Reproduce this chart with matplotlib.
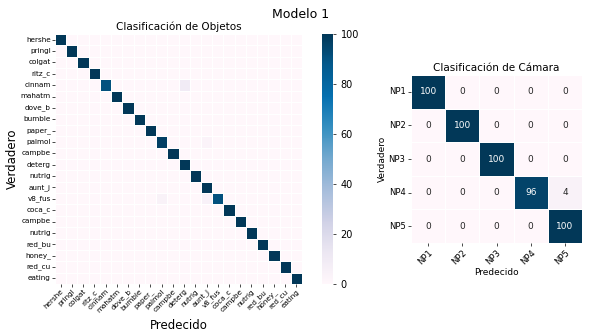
import numpy as np
import matplotlib
matplotlib.use('Agg')
import matplotlib.pyplot as plt
import seaborn as sns

# objetos (22 clases)
objetos = ['hershe', 'pringl', 'colgat', 'ritz_c', 'cinnam', 'mahatm', 'dove_b',
           'bumble', 'paper_', 'palmol', 'campbe', 'deterg', 'nutrig', 'aunt_j',
           'v8_fus', 'coca_c', 'campbe', 'nutrig', 'red_bu', 'honey_', 'red_cu',
           'eating']
diag_objetos = [100, 100, 100, 100, 91, 100, 100, 100, 100, 97, 100, 100, 100,
                100, 91, 100, 100, 100, 100, 100, 100, 100]
# (fila, columna, valor) fuera de la diagonal
fuera_objetos = [(4, 11, 9), (9, 13, 3), (14, 9, 4), (14, 13, 5)]

# camaras
camaras = ['NP1', 'NP2', 'NP3', 'NP4', 'NP5']
mat_camaras = [[100, 0, 0, 0, 0],
               [0, 100, 0, 0, 0],
               [0, 0, 100, 0, 0],
               [0, 0, 0, 96, 4],
               [0, 0, 0, 0, 100]]

cm_obj = np.diag(diag_objetos).astype(float)
for r, c, v in fuera_objetos:
    cm_obj[r, c] = v
cm_cam = np.array(mat_camaras)

fig = plt.figure(figsize=(5.91, 3.31), dpi=100)
W, H = 591, 331

def box(x0, y0, x1, y1):
    return [x0 / W, 1 - y1 / H, (x1 - x0) / W, (y1 - y0) / H]

ax1 = fig.add_axes(box(55, 34, 302, 284))
cax = fig.add_axes(box(322, 34, 333, 284))
ax2 = fig.add_axes(box(411, 75, 582, 243))

sns.heatmap(cm_obj, ax=ax1, cbar_ax=cax, cmap='PuBu', vmin=0, vmax=100,
            linewidths=0.5, linecolor='white',
            xticklabels=objetos, yticklabels=objetos)
ax1.set_title('Clasificación de Objetos', fontsize=7.5, pad=3)
ax1.set_xlabel('Predecido', fontsize=8.5)
ax1.set_ylabel('Verdadero', fontsize=8.5, labelpad=1)
ax1.tick_params(axis='both', labelsize=5.2, length=2, width=0.5, pad=1)
plt.setp(ax1.get_xticklabels(), rotation=45, ha='right', rotation_mode='anchor')
plt.setp(ax1.get_yticklabels(), rotation=0)
cax.tick_params(labelsize=7, length=2, width=0.5)
cax.set_yticks([0, 20, 40, 60, 80, 100])

sns.heatmap(cm_cam, ax=ax2, cmap='PuBu', vmin=0, vmax=100, cbar=False,
            annot=True, fmt='d', annot_kws={'fontsize': 6.5},
            linewidths=0.5, linecolor='white',
            xticklabels=camaras, yticklabels=camaras)
ax2.set_title('Clasificación de Cámara', fontsize=7.5, pad=3)
ax2.set_xlabel('Predecido', fontsize=6.5, labelpad=1)
ax2.set_ylabel('Verdadero', fontsize=6.5, labelpad=1)
ax2.tick_params(axis='both', labelsize=6, length=2, width=0.5, pad=2)
plt.setp(ax2.get_xticklabels(), rotation=45, ha='right', rotation_mode='anchor')
plt.setp(ax2.get_yticklabels(), rotation=0)

fig.text(0.508, 0.955, 'Modelo 1', ha='center', va='center', fontsize=9)

fig.savefig('out.png', dpi=100)
